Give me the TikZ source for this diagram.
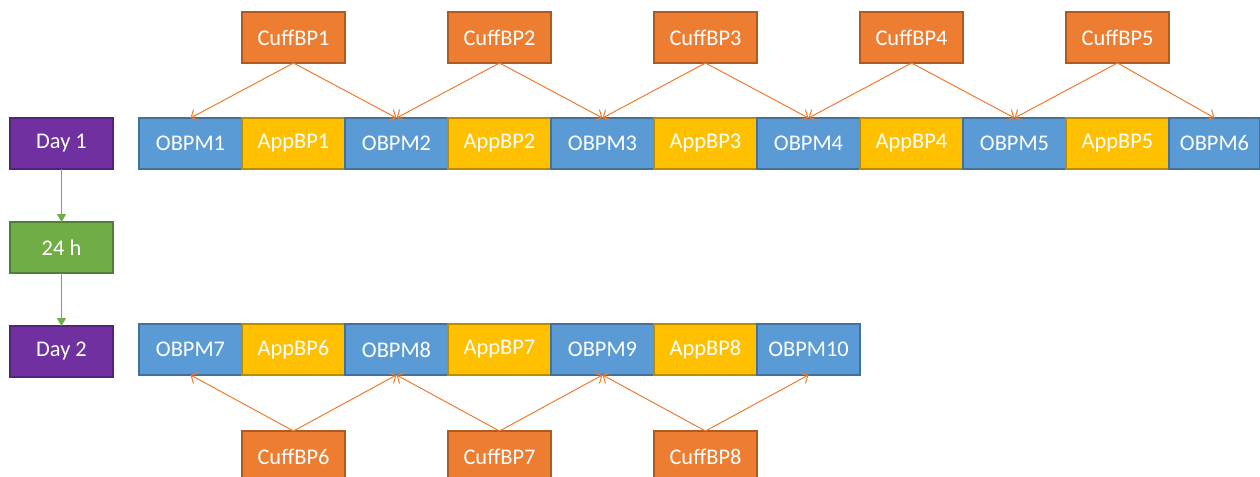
\documentclass[tikz,border=0pt]{standalone}
\usepackage{fontspec}
\setmainfont{Carlito}
\usepackage{xcolor}
\usepackage{tikz}
\usetikzlibrary{positioning,arrows.meta}

\definecolor{obpmblue}{HTML}{5B9BD5}
\definecolor{obpmline}{HTML}{41719C}
\definecolor{appgold}{HTML}{FFC000}
\definecolor{appline}{HTML}{BC8C00}
\definecolor{cufforange}{HTML}{ED7D31}
\definecolor{cuffline}{HTML}{AE5A21}
\definecolor{daypurple}{HTML}{7030A0}
\definecolor{dayline}{HTML}{52237A}
\definecolor{waitgreen}{HTML}{70AD47}
\definecolor{waitline}{HTML}{507E32}

\tikzset{
  box/.style={rectangle, draw, line width=0.6pt, minimum width=51.5pt, minimum height=25.5pt,
    inner sep=0pt, outer sep=0pt, text=white, font=\fontsize{11.2}{13}\selectfont},
  obpm/.style={box, fill=obpmblue, draw=obpmline},
  appbp/.style={box, fill=appgold, draw=appline},
  cuff/.style={box, fill=cufforange, draw=cuffline},
  day/.style={box, fill=daypurple, draw=dayline},
  wait/.style={box, fill=waitgreen, draw=waitline},
  cuffarrow/.style={draw=cufforange, line width=0.5pt, -{Straight Barb[length=3pt,width=6pt]}},
  dayarrow/.style={draw=waitgreen, line width=0.5pt, -{Triangle[length=4pt,width=4.5pt]}}
}

\begin{document}
\begin{tikzpicture}[x=0.5pt,y=-0.5pt]
    \useasboundingbox (0,0) rectangle (1260,477);

    % day column
    \node [day] (day1) at (61.5,143.5) {Day 1};
    \node [wait, below=26.5pt of day1] (wait) {24 h};
    \node [day, below=26.5pt of wait] (day2) {Day 2};
    \draw [dayarrow] (day1) -- (wait);
    \draw [dayarrow] (wait) -- (day2);

    % day 1 row
    \node [obpm] (obpm1) at (190.5,143.5) {OBPM1};
    \node [appbp, right=0pt of obpm1] (app1) {AppBP1};
    \node [obpm, right=0pt of app1] (obpm2) {OBPM2};
    \node [appbp, right=0pt of obpm2] (app2) {AppBP2};
    \node [obpm, right=0pt of app2] (obpm3) {OBPM3};
    \node [appbp, right=0pt of obpm3] (app3) {AppBP3};
    \node [obpm, right=0pt of app3] (obpm4) {OBPM4};
    \node [appbp, right=0pt of obpm4] (app4) {AppBP4};
    \node [obpm, right=0pt of app4] (obpm5) {OBPM5};
    \node [appbp, right=0pt of obpm5] (app5) {AppBP5};
    \node [obpm, right=0pt of app5, minimum width=45.5pt] (obpm6) {OBPM6};

    % day 2 row
    \node [obpm] (obpm7) at (190.5,349.5) {OBPM7};
    \node [appbp, right=0pt of obpm7] (app6) {AppBP6};
    \node [obpm, right=0pt of app6] (obpm8) {OBPM8};
    \node [appbp, right=0pt of obpm8] (app7) {AppBP7};
    \node [obpm, right=0pt of app7] (obpm9) {OBPM9};
    \node [appbp, right=0pt of obpm9] (app8) {AppBP8};
    \node [obpm, right=0pt of app8] (obpm10) {OBPM10};

    % cuff readings
    \foreach \i in {1,...,5}
      \node [cuff, above=27.5pt of app\i] (cuff\i) {CuffBP\i};
    \foreach \i in {6,7,8}
      \node [cuff, below=28pt of app\i] (cuff\i) {CuffBP\i};

    \foreach \i/\a/\b in {1/1/2, 2/2/3, 3/3/4, 4/4/5, 5/5/6} {
      \draw [cuffarrow] (cuff\i.south) -- (obpm\a.north);
      \draw [cuffarrow] (cuff\i.south) -- (obpm\b.north);
    }
    \foreach \i/\a/\b in {6/7/8, 7/8/9, 8/9/10} {
      \draw [cuffarrow] (cuff\i.north) -- (obpm\a.south);
      \draw [cuffarrow] (cuff\i.north) -- (obpm\b.south);
    }
\end{tikzpicture}
\end{document}
